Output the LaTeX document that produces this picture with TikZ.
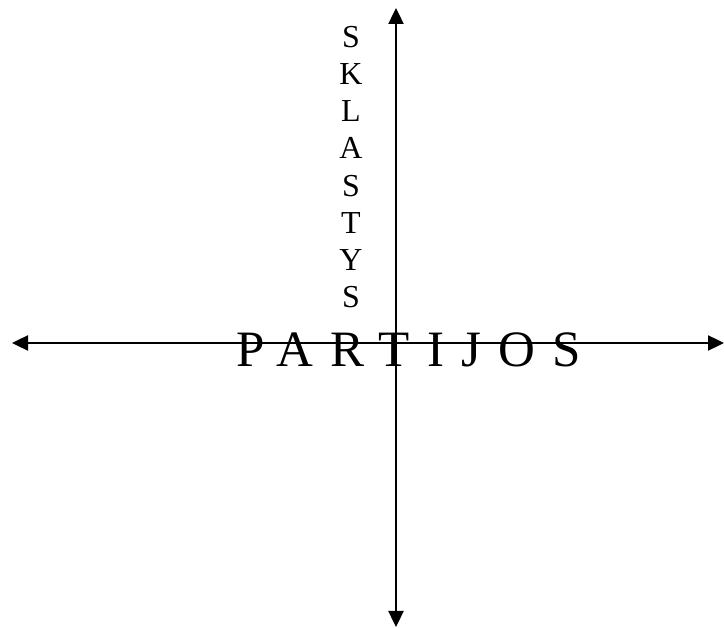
\documentclass[tikz,border=0pt]{standalone}
\usepackage{fontspec}
\setmainfont{Liberation Serif}
\usetikzlibrary{arrows.meta}
\begin{document}
\begin{tikzpicture}[x=1pt,y=-1pt,
  axis/.style={line width=2.4pt,{Triangle[length=16pt,width=15pt]}-{Triangle[length=16pt,width=15pt]}},
  bigword/.style={inner sep=0pt,font=\fontsize{51}{51}\selectfont\addfontfeature{LetterSpace=33.5}},
  vword/.style={inner sep=0pt,align=center,font=\fontsize{32}{37.2}\selectfont}]
\useasboundingbox (0,0) rectangle (724,628);
\coordinate (top) at (396,8);
\coordinate (bot) at (396,627);
\coordinate (left) at (12,343);
\coordinate (right) at (724,343);
\draw[axis] (bot) -- (top);
\draw[axis] (left) -- (right);
\node[bigword,anchor=base west] (partijos) at (236,367) {PARTIJOS};
\node[vword,anchor=north] (sklastys) at (351,26) {S\\K\\L\\A\\S\\T\\Y\\S};
\end{tikzpicture}
\end{document}
